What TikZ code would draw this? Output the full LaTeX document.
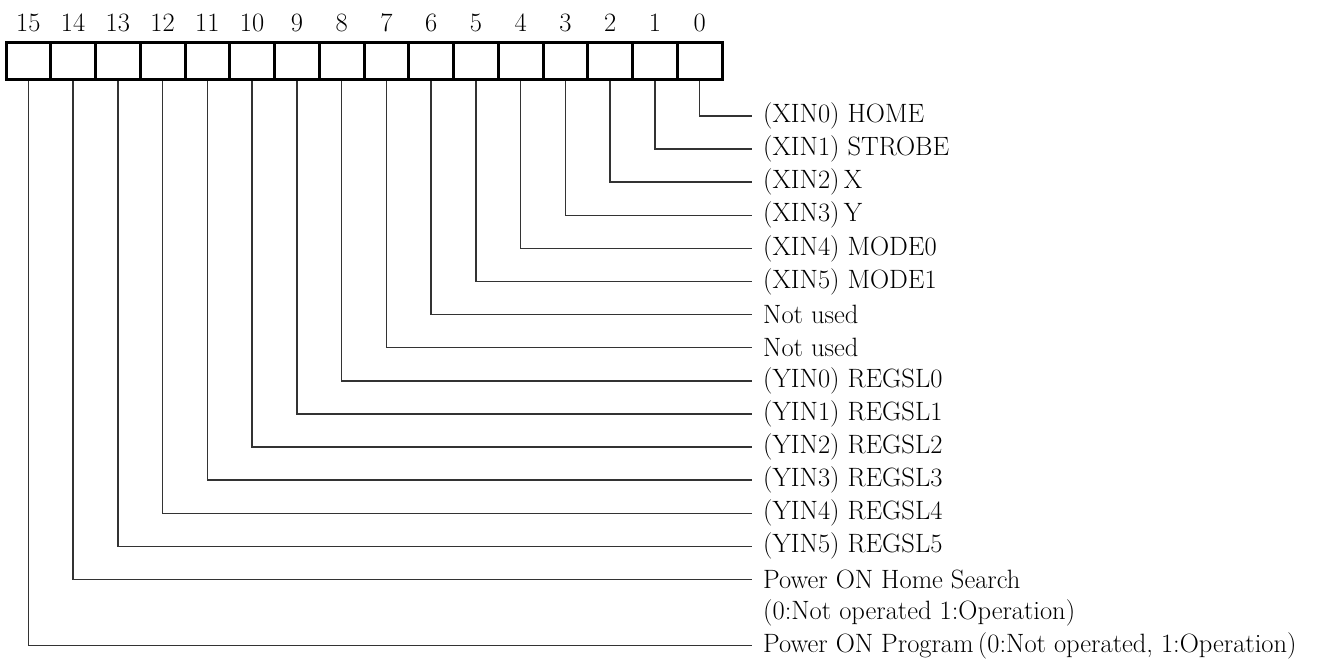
\documentclass[tikz,border=0pt]{standalone}
\usepackage{fontspec}
\tikzset{
  cell/.style={draw, line width=3pt, minimum width=44.75pt, minimum height=37pt, inner sep=0pt},
  lead/.style={line width=1.4pt, black!80},
  bitno/.style={font=\fontsize{26.5}{30}\selectfont, inner sep=0pt},
  desc/.style={anchor=west, font=\fontsize{26.5}{30}\selectfont, inner xsep=11pt, inner ysep=0pt}
}
\begin{document}
\begin{tikzpicture}[x=1pt,y=1pt]
  \useasboundingbox (0,0) rectangle (1317,-660);
  % register cells and bit numbers
  \foreach \i in {0,...,15}{
    \node[cell] (b\i) at ({28.4+44.75*(15-\i)},-61.5) {};
    \node[bitno] (n\i) at ({28.4+44.75*(15-\i)},-23) {\i};
  }
  % bit descriptions
  \foreach \i/\k/\t in {0/0/{(XIN0) HOME}, 1/1/{(XIN1) STROBE}, 2/2/{(XIN2)\,X}, 3/3/{(XIN3)\,Y},
      4/4/{(XIN4) MODE0}, 5/5/{(XIN5) MODE1}, 6/6/{Not used}, 7/7/{Not used},
      8/8/{(YIN0) REGSL0}, 9/9/{(YIN1) REGSL1}, 10/10/{(YIN2) REGSL2}, 11/11/{(YIN3) REGSL3},
      12/12/{(YIN4) REGSL4}, 13/13/{(YIN5) REGSL5}, 14/14/{Power ON Home Search},
      15/16/{Power ON Program\,(0:Not operated, 1:Operation)}}{
    \coordinate (e\i) at (752,{-116-33.1*\k});
    \node[desc] (l\i) at (e\i) {\t};
    \draw[lead] (b\i.south) |- (e\i);
  }
  \node[desc] (l14b) at (752,{-116-33.1*15}) {(0:Not operated 1:Operation)};
\end{tikzpicture}
\end{document}
